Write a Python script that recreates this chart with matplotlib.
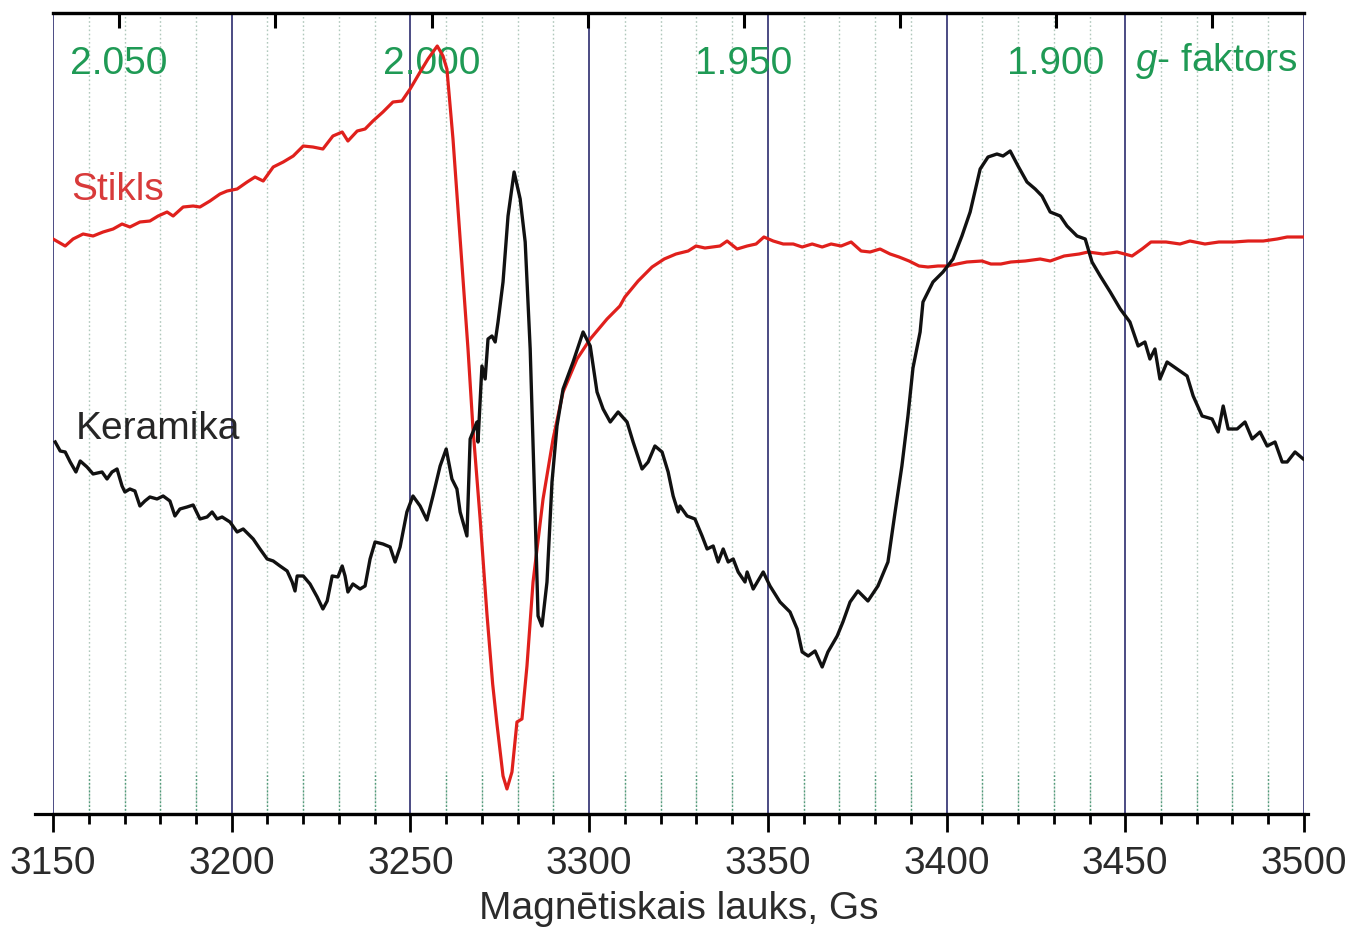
import numpy as np
import matplotlib.pyplot as plt
from matplotlib.ticker import MultipleLocator

plt.rcParams['font.family'] = ['Liberation Sans', 'DejaVu Sans']
plt.rcParams['mathtext.fontset'] = 'custom'
plt.rcParams['mathtext.it'] = 'Liberation Sans:italic'
plt.rcParams['mathtext.rm'] = 'Liberation Sans'

# =========================
# Data (magnetic field, Gs ; intensity, a.u.)
# =========================
keramika_B = [3150.6, 3152.0, 3153.4, 3154.8, 3156.4, 3157.6, 3159.5, 3161.2, 3163.7, 3165.1,
              3166.5, 3167.9, 3169.3, 3170.1, 3171.5, 3172.9, 3174.3, 3175.7, 3177.1, 3179.1,
              3180.8, 3182.7, 3184.1, 3185.5, 3187.5, 3189.2, 3191.1, 3193.1, 3194.5, 3195.9,
              3197.3, 3199.5, 3201.5, 3203.2, 3204.6, 3206.0, 3207.9, 3209.9, 3211.6, 3213.5,
              3215.5, 3216.9, 3217.7, 3218.3, 3220.0, 3221.9, 3223.9, 3225.5, 3226.7, 3228.1,
              3229.7, 3230.9, 3231.7, 3232.5, 3233.9, 3235.9, 3237.3, 3238.7, 3240.1, 3242.3,
              3244.3, 3245.7, 3247.1, 3249.0, 3250.7, 3252.7, 3254.6, 3256.3, 3258.3, 3260.0,
              3261.6, 3263.0, 3263.9, 3265.8, 3266.7, 3268.6, 3268.9, 3270.0, 3270.9, 3271.7,
              3272.8, 3273.7, 3274.5, 3275.9, 3277.3, 3279.0, 3280.7, 3282.1, 3283.5, 3284.9,
              3285.7, 3286.8, 3288.2, 3289.6, 3291.0, 3292.7, 3295.5, 3298.3, 3300.3, 3302.2,
              3303.9, 3305.9, 3308.1, 3310.6, 3312.3, 3314.8, 3316.5, 3318.4, 3320.4, 3322.1,
              3323.5, 3324.9, 3325.4, 3327.4, 3329.6, 3331.6, 3333.0, 3334.7, 3336.1, 3337.5,
              3338.9, 3340.3, 3341.7, 3343.6, 3344.2, 3345.9, 3348.7, 3350.6, 3353.4, 3356.2,
              3358.2, 3359.6, 3361.3, 3363.2, 3365.2, 3366.8, 3369.4, 3371.0, 3373.0, 3375.2,
              3378.0, 3380.8, 3383.6, 3385.6, 3387.5, 3389.2, 3390.6, 3392.6, 3393.4, 3396.2,
              3399.0, 3401.8, 3404.3, 3406.6, 3409.4, 3411.6, 3414.1, 3415.8, 3417.8, 3420.0,
              3422.5, 3424.8, 3426.7, 3429.0, 3431.8, 3433.7, 3436.5, 3438.8, 3440.7, 3443.0,
              3445.8, 3448.6, 3451.3, 3453.6, 3455.5, 3456.9, 3458.3, 3459.7, 3461.7, 3464.5,
              3467.3, 3469.0, 3471.5, 3474.3, 3476.0, 3477.4, 3478.8, 3481.3, 3483.5, 3485.5,
              3487.7, 3489.7, 3491.9, 3493.9, 3495.3, 3497.5, 3499.8]
keramika_I = [37.2, 36.3, 36.2, 35.2, 34.2, 35.3, 34.7, 34.0, 34.2, 33.5,
              34.2, 34.5, 32.8, 32.2, 32.5, 32.3, 30.8, 31.3, 31.7, 31.5,
              31.8, 31.3, 29.8, 30.5, 30.7, 30.9, 29.5, 29.7, 30.2, 29.5,
              29.7, 29.2, 28.2, 28.5, 28.0, 27.5, 26.5, 25.5, 25.3, 24.8,
              24.3, 23.2, 22.3, 23.8, 23.8, 23.0, 21.7, 20.5, 21.3, 23.8,
              23.7, 24.8, 23.8, 22.2, 23.0, 22.5, 22.8, 25.5, 27.2, 27.0,
              26.7, 25.2, 26.7, 30.2, 31.8, 30.8, 29.4, 31.8, 34.8, 36.5,
              33.5, 32.5, 30.2, 27.8, 37.5, 39.2, 37.2, 44.8, 43.5, 47.5,
              47.8, 47.2, 49.2, 53.2, 59.8, 64.2, 61.5, 57.2, 46.5, 29.8,
              19.8, 18.8, 23.2, 33.2, 38.8, 42.5, 45.2, 48.2, 46.8, 42.2,
              40.5, 39.2, 40.2, 39.2, 37.2, 34.5, 35.2, 36.8, 36.2, 34.2,
              31.8, 30.2, 30.8, 29.8, 29.5, 27.8, 26.5, 26.8, 25.2, 26.5,
              25.2, 25.5, 24.2, 23.2, 24.2, 22.5, 24.2, 22.8, 21.2, 20.2,
              18.5, 16.2, 15.8, 16.3, 14.7, 16.2, 17.8, 19.2, 21.2, 22.3,
              21.3, 22.8, 25.2, 30.2, 34.8, 39.8, 44.6, 48.2, 51.2, 53.2,
              54.2, 55.5, 57.8, 60.2, 64.5, 65.7, 66.0, 65.8, 66.3, 64.8,
              63.2, 62.5, 61.8, 60.2, 59.8, 58.8, 57.8, 57.5, 55.2, 53.8,
              52.2, 50.5, 49.2, 46.8, 47.2, 45.5, 46.5, 43.5, 45.2, 44.5,
              43.8, 41.8, 39.8, 39.5, 38.2, 40.8, 38.5, 38.5, 39.2, 37.5,
              38.2, 36.8, 37.2, 35.2, 35.2, 36.2, 35.5]

stikls_B = [3150.0, 3153.4, 3155.6, 3158.4, 3161.2, 3164.0, 3166.8, 3169.3, 3171.5, 3174.3,
            3177.1, 3179.4, 3181.9, 3183.6, 3186.4, 3189.2, 3191.1, 3193.9, 3196.7, 3198.7,
            3201.5, 3204.3, 3206.5, 3208.8, 3211.6, 3214.4, 3217.2, 3220.0, 3222.7, 3225.5,
            3228.3, 3230.9, 3232.5, 3235.1, 3237.3, 3239.5, 3242.3, 3245.1, 3247.6, 3249.9,
            3252.7, 3254.9, 3257.5, 3259.1, 3260.2, 3261.9, 3263.3, 3264.7, 3266.1, 3267.5,
            3269.5, 3271.4, 3273.0, 3274.2, 3275.9, 3277.0, 3278.4, 3279.8, 3281.2, 3282.6,
            3284.3, 3287.1, 3289.9, 3292.7, 3296.6, 3300.3, 3305.0, 3308.6, 3310.0, 3313.7,
            3317.6, 3321.0, 3324.3, 3327.7, 3329.9, 3332.4, 3336.6, 3338.6, 3341.4, 3344.2,
            3346.7, 3348.9, 3351.5, 3354.3, 3357.1, 3359.6, 3362.4, 3365.2, 3367.7, 3370.5,
            3373.3, 3376.1, 3378.6, 3381.4, 3384.2, 3386.7, 3389.5, 3392.3, 3394.8, 3397.6,
            3400.4, 3402.9, 3405.7, 3409.9, 3412.4, 3415.2, 3418.0, 3422.0, 3426.2, 3429.0,
            3432.9, 3437.1, 3439.6, 3443.8, 3447.7, 3451.9, 3454.7, 3457.2, 3461.4, 3465.3,
            3468.1, 3472.3, 3476.2, 3480.4, 3484.4, 3488.6, 3492.5, 3495.3, 3500.0]
stikls_I = [57.5, 56.8, 57.5, 58.0, 57.8, 58.2, 58.5, 59.0, 58.7, 59.2,
            59.3, 59.8, 60.2, 59.8, 60.7, 60.8, 60.7, 61.3, 62.0, 62.3,
            62.5, 63.2, 63.7, 63.3, 64.7, 65.2, 65.8, 66.8, 66.7, 66.5,
            67.8, 68.2, 67.3, 68.3, 68.5, 69.3, 70.2, 71.2, 71.3, 72.5,
            74.2, 75.5, 76.8, 75.8, 74.5, 67.5, 60.5, 53.5, 46.5, 38.5,
            29.5, 20.0, 13.0, 9.0, 3.8, 2.5, 4.2, 9.2, 9.5, 14.8,
            23.2, 31.5, 37.5, 42.2, 45.5, 47.5, 49.5, 50.8, 51.7, 53.3,
            54.7, 55.5, 56.0, 56.3, 56.8, 56.6, 56.8, 57.3, 56.5, 56.8,
            57.0, 57.7, 57.3, 57.0, 57.0, 56.7, 57.0, 56.7, 57.0, 56.8,
            57.2, 56.3, 56.2, 56.5, 56.0, 55.7, 55.3, 54.8, 54.7, 54.8,
            54.8, 55.0, 55.2, 55.3, 55.0, 55.0, 55.2, 55.3, 55.5, 55.3,
            55.8, 56.0, 56.2, 56.0, 56.2, 55.8, 56.5, 57.2, 57.2, 57.0,
            57.3, 57.0, 57.2, 57.2, 57.3, 57.3, 57.5, 57.7, 57.7]

# g-factor scale (top axis): field positions of the g ticks
g_values = [2.050, 2.025, 2.000, 1.975, 1.950, 1.925, 1.900, 1.875]
g_field = [3168.5, 3212.1, 3256.0, 3299.7, 3343.3, 3387.0, 3430.6, 3474.3]
g_labels = ['2.050', '', '2.000', '', '1.950', '', '1.900', '']

# =========================
# Figure
# =========================
fig = plt.figure(figsize=(13.5, 9.28), dpi=100)
ax = fig.add_axes([0.0393, 0.1218, 0.9266, 0.8631])

ax.set_xlim(3150, 3500)
ax.set_ylim(0, 80.1)

# grid: dotted minor lines every 10 Gs, navy lines every 50 Gs
for b in np.arange(3160, 3500, 10):
    if b % 50 == 0:
        continue
    ax.axvline(b, color='#b0c8bc', lw=1.0, ls=(0, (1.2, 1.8)), zorder=1)
    ax.plot([b, b], [0, 4.2], color='#4f9a78', lw=1.0, ls=(0, (1.2, 1.5)), zorder=1)
for b in np.arange(3150, 3501, 50):
    ax.axvline(b, color='#3d3d7a', lw=1.3, zorder=2)

# spectra
ax.plot(stikls_B, stikls_I, color='#e0201c', lw=2.3, zorder=4)
ax.plot(keramika_B, keramika_I, color='#111111', lw=2.4, zorder=5)

# labels inside the plot
ax.text(3155, 62.5, 'Stikls', color='#d83a3a', fontsize=28, va='center', ha='left', zorder=6)
ax.text(3156.3, 38.6, 'Keramika', color='#262626', fontsize=28, va='center', ha='left', zorder=6)

green = '#1f9a55'
for b, lab in zip(g_field, g_labels):
    if lab:
        ax.text(b, 75.1, lab, color=green, fontsize=28, ha='center', va='center', zorder=3)
ax.text(3498.3, 75.4, r'$\mathit{g}$- faktors', color=green, fontsize=28,
        ha='right', va='center', zorder=3)

# spines
for s in ['left', 'right']:
    ax.spines[s].set_visible(False)
ax.spines['top'].set_linewidth(2.3)
ax.spines['bottom'].set_linewidth(2.3)
ax.plot([3145, 3501.2], [0, 0], color='black', lw=2.3, clip_on=False, zorder=6,
        transform=ax.get_xaxis_transform())

# bottom axis ticks
ax.xaxis.set_major_locator(MultipleLocator(50))
ax.xaxis.set_minor_locator(MultipleLocator(10))
ax.tick_params(axis='x', which='major', direction='out', length=13, width=2.0,
               labelsize=28, labelcolor='#2b2b2b', pad=9)
ax.tick_params(axis='x', which='minor', direction='out', length=7, width=2.0)
ax.set_yticks([])
ax.set_xlabel('Magnētiskais lauks, Gs', fontsize=28, color='#2b2b2b', labelpad=7)

# top g-factor ticks
top = ax.twiny()
top.set_xlim(ax.get_xlim())
top.set_xticks(g_field)
top.set_xticklabels([])
top.tick_params(axis='x', direction='in', length=11, width=2.2)
for s in ['left', 'right', 'bottom']:
    top.spines[s].set_visible(False)
top.spines['top'].set_linewidth(2.3)

fig.savefig('out.png', dpi=100)
